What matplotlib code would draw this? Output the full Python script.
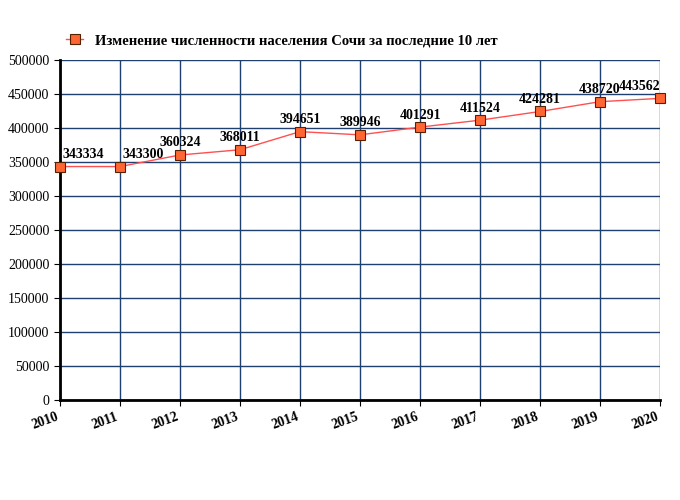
import matplotlib
matplotlib.use("Agg")
from matplotlib import pyplot as plt
import numpy as np

years = [2010, 2011, 2012, 2013, 2014, 2015, 2016, 2017, 2018, 2019, 2020]
population = [343334, 343300, 360324, 368011, 394651, 389946, 401291, 411524, 424281, 438720, 443562]
legendLabel = "Изменение численности населения Сочи за последние 10 лет"

plt.rcParams['font.family'] = ['Liberation Serif', 'DejaVu Serif']

fig = plt.figure(figsize=(6.8, 5), dpi=100)
ax = fig.add_axes([60 / 680, 100 / 500, 600 / 680, 340 / 500])

ax.plot(years, population, color='#FF5050', linewidth=1, marker='s', markersize=7,
        markerfacecolor='#FF6633', markeredgecolor='#552200', markeredgewidth=0.8,
        label=legendLabel, clip_on=False, zorder=3)

# label placement: first ones pushed right to avoid overlap, last one kept inside
for i in range(len(years)):
    ha, dx = 'center', 0
    if i in (0, 1):
        ha, dx = 'left', 2
    elif i == len(years) - 1:
        ha, dx = 'right', 0
    ax.annotate(str(population[i]), (years[i], population[i]), xytext=(dx, 4),
                textcoords='offset points', ha=ha, va='bottom',
                fontsize=10, fontweight='bold', zorder=4)

ax.set_xlim(2010, 2020)
ax.set_ylim(0, 500000)
ax.set_xticks(years)
ax.set_yticks(np.arange(0, 500001, 50000))
ax.set_yticklabels([str(v) for v in range(0, 500001, 50000)], fontsize=10)
ax.set_xticklabels([str(y) for y in years], fontsize=10, fontweight='bold',
                   rotation=20, ha='right')
ax.grid(True, color='#1F3F6F', linewidth=1)
ax.set_axisbelow(True)
for s in ['top', 'right']:
    ax.spines[s].set_visible(False)
ax.spines['left'].set_linewidth(2)
ax.spines['bottom'].set_linewidth(2)
ax.tick_params(length=4)

ax.legend(loc='lower left', bbox_to_anchor=(0.0, 1.02), frameon=False,
          handlelength=1.2, borderaxespad=0,
          prop={'weight': 'bold', 'size': 10.5})

fig.savefig("out.png", dpi=100)
